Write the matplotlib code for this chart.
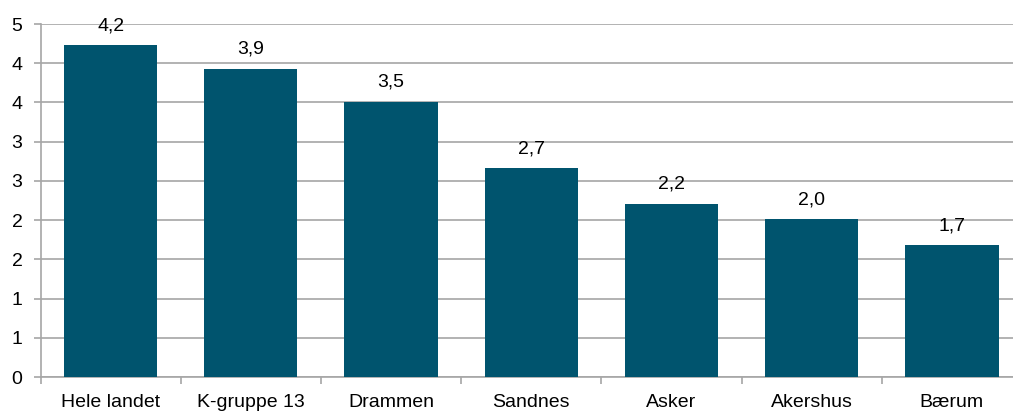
import matplotlib
matplotlib.use("Agg")
import matplotlib.pyplot as plt
import numpy as np

# Data
categories = ["Hele landet", "K-gruppe 13", "Drammen", "Sandnes", "Asker", "Akershus", "Bærum"]
values = [4.23, 3.93, 3.51, 2.66, 2.21, 2.01, 1.68]
ytick_values = [0, 0.5, 1, 1.5, 2, 2.5, 3, 3.5, 4, 4.5]
ytick_labels = ["0", "1", "1", "2", "2", "3", "3", "4", "4", "5"]

plt.rcParams['font.family'] = ['Liberation Sans', 'DejaVu Sans']

bar_color = "#00546E"
grid_color = "#a6a6a6"
fsize = 14

fig = plt.figure(figsize=(10.13, 4.12), dpi=100)
# plot area runs slightly past the right edge of the picture
ax = fig.add_axes([40.5 / 1013, 35 / 412, 981.5 / 1013, 353 / 412])

x = np.arange(len(categories))
bars = ax.bar(x, values, width=0.665, color=bar_color, zorder=3)

for rect, v in zip(bars, values):
    ax.annotate(f"{v:.1f}".replace(".", ","),
                xy=(rect.get_x() + rect.get_width() / 2, rect.get_height()),
                xytext=(0, 8), textcoords="offset points",
                ha="center", va="bottom", fontsize=fsize, color="black")

ax.set_xlim(-0.5, len(categories) - 0.5)
ax.set_ylim(0, 4.5)

ax.set_yticks(ytick_values)
ax.set_yticklabels(ytick_labels)
ax.yaxis.grid(True, color=grid_color, linewidth=1.2, zorder=0)
ax.set_axisbelow(True)

# category labels centred, tick marks at the boundaries
ax.set_xticks(x)
ax.set_xticklabels(categories)
ax.set_xticks(np.arange(len(categories) + 1) - 0.5, minor=True)
ax.tick_params(axis="x", which="major", length=0, pad=12, labelsize=fsize)
ax.tick_params(axis="x", which="minor", length=5, width=1.2, color=grid_color, direction="out")
ax.tick_params(axis="y", length=5, width=1.2, color=grid_color, labelsize=fsize, pad=8)

for side in ["top", "right"]:
    ax.spines[side].set_visible(False)
for side in ["left", "bottom"]:
    ax.spines[side].set_color(grid_color)
    ax.spines[side].set_linewidth(1.2)

fig.savefig("out.png", dpi=100)
